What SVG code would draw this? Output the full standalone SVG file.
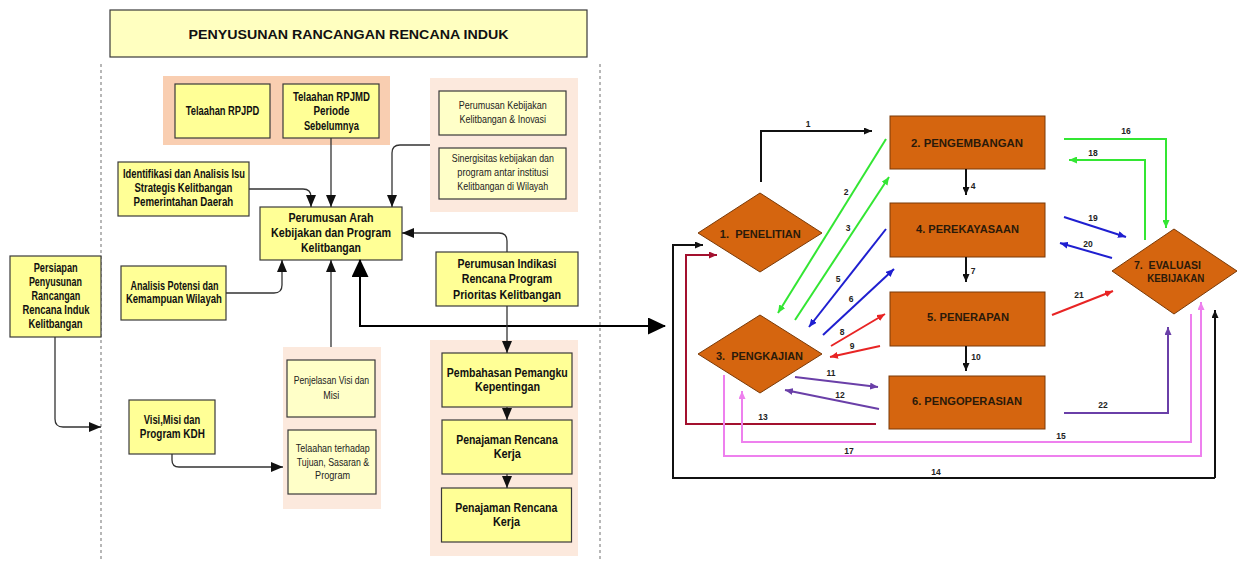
<svg xmlns="http://www.w3.org/2000/svg" width="1241" height="561" viewBox="0 0 1241 561">
<style>
.box{fill:#ffff96;stroke:#3a3a3a;stroke-width:1.2}
.lbox{fill:#ffffc8;stroke:#3a3a3a;stroke-width:1.2}
.cont1{fill:#f9ceb1}
.cont2{fill:#fce9dd}
.b{font-family:"Liberation Sans",Arial,sans-serif;font-weight:bold;font-size:12px;fill:#111;text-anchor:middle}
.n{font-family:"Liberation Sans",Arial,sans-serif;font-size:10.5px;fill:#222;text-anchor:middle}
.conn{fill:none;stroke:#333;stroke-width:1.3}
.dash{stroke:#888;stroke-width:1.2;stroke-dasharray:3,3}
.obox{fill:#d5650f;stroke:#7a3a08;stroke-width:1}
.ot{font-family:"Liberation Sans",Arial,sans-serif;font-weight:bold;font-size:10px;fill:#2a1a0a;text-anchor:middle}
.num{font-family:"Liberation Sans",Arial,sans-serif;font-weight:bold;font-size:8.5px;fill:#222;text-anchor:middle}
.k{fill:none;stroke:#111;stroke-width:2}
.g{fill:none;stroke:#33e633;stroke-width:2}
.bl{fill:none;stroke:#1f1fd0;stroke-width:2}
.r{fill:none;stroke:#e82424;stroke-width:2}
.p{fill:none;stroke:#6a3fa8;stroke-width:2}
.dr{fill:none;stroke:#a3102e;stroke-width:2}
.pk{fill:none;stroke:#ee80ee;stroke-width:2}
</style>
<defs>
<marker id="a" markerUnits="userSpaceOnUse" markerWidth="12" markerHeight="10" refX="12" refY="5" orient="auto"><path d="M0,0 L12,5 L0,10 z" fill="#111"/></marker>
<marker id="big" markerUnits="userSpaceOnUse" markerWidth="18" markerHeight="17" refX="17" refY="8.5" orient="auto-start-reverse"><path d="M0,0 L18,8.5 L0,17 z" fill="#000"/></marker>
<marker id="mk" markerUnits="userSpaceOnUse" markerWidth="8" markerHeight="7" refX="8" refY="3.5" orient="auto"><path d="M0,0 L8,3.5 L0,7 z" fill="#111"/></marker>
<marker id="mg" markerUnits="userSpaceOnUse" markerWidth="8" markerHeight="7" refX="8" refY="3.5" orient="auto"><path d="M0,0 L8,3.5 L0,7 z" fill="#33e633"/></marker>
<marker id="mb" markerUnits="userSpaceOnUse" markerWidth="8" markerHeight="7" refX="8" refY="3.5" orient="auto"><path d="M0,0 L8,3.5 L0,7 z" fill="#1f1fd0"/></marker>
<marker id="mr" markerUnits="userSpaceOnUse" markerWidth="8" markerHeight="7" refX="8" refY="3.5" orient="auto"><path d="M0,0 L8,3.5 L0,7 z" fill="#e82424"/></marker>
<marker id="mp" markerUnits="userSpaceOnUse" markerWidth="8" markerHeight="7" refX="8" refY="3.5" orient="auto"><path d="M0,0 L8,3.5 L0,7 z" fill="#6a3fa8"/></marker>
<marker id="mdr" markerUnits="userSpaceOnUse" markerWidth="8" markerHeight="7" refX="8" refY="3.5" orient="auto"><path d="M0,0 L8,3.5 L0,7 z" fill="#a3102e"/></marker>
<marker id="mpk" markerUnits="userSpaceOnUse" markerWidth="8" markerHeight="7" refX="8" refY="3.5" orient="auto"><path d="M0,0 L8,3.5 L0,7 z" fill="#ee80ee"/></marker>
</defs>
<rect width="1241" height="561" fill="#fff"/>

<g id="title">
<rect x="110" y="10" width="477" height="47" fill="#ffffc0" stroke="#3a3a3a" stroke-width="1.2"/>
<text class="b" x="348.6" y="39" font-size="15" textLength="320" lengthAdjust="spacingAndGlyphs">PENYUSUNAN RANCANGAN RENCANA INDUK</text>
</g>
<g id="separators">
<line class="dash" x1="101" y1="64" x2="101" y2="561"/>
<line class="dash" x1="600" y1="64" x2="600" y2="561"/>
</g>

<g id="cont-telaahan"><rect class="cont1" x="163" y="76" width="227" height="69"/></g>
<g id="cont-kebijakan"><rect class="cont2" x="430" y="78" width="148" height="134"/></g>
<g id="cont-visi"><rect class="cont2" x="283" y="347" width="98" height="162"/></g>
<g id="cont-pembahasan"><rect class="cont2" x="430" y="340" width="148" height="216"/></g>

<g id="n-rpjpd"><rect class="box" x="175" y="84" width="95" height="54"/>
<text class="b" x="222.5" y="114.5" textLength="73.5" lengthAdjust="spacingAndGlyphs">Telaahan RPJPD</text></g>
<g id="n-rpjmd"><rect class="box" x="283" y="84" width="96" height="54"/>
<text class="b" x="331.4" y="101" textLength="77" lengthAdjust="spacingAndGlyphs">Telaahan RPJMD</text>
<text class="b" x="331.4" y="115" textLength="36" lengthAdjust="spacingAndGlyphs">Periode</text>
<text class="b" x="331.4" y="129.5" textLength="55" lengthAdjust="spacingAndGlyphs">Sebelumnya</text></g>
<g id="n-perumusan-kebijakan"><rect class="lbox" x="439" y="91" width="127" height="44"/>
<text class="n" x="502.8" y="109" textLength="88" lengthAdjust="spacingAndGlyphs">Perumusan Kebijakan</text>
<text class="n" x="502.8" y="123" textLength="86.5" lengthAdjust="spacingAndGlyphs">Kelitbangan &amp; Inovasi</text></g>
<g id="n-sinergisitas"><rect class="lbox" x="439" y="148" width="127" height="51"/>
<text class="n" x="502.8" y="162" textLength="102" lengthAdjust="spacingAndGlyphs">Sinergisitas kebijakan dan</text>
<text class="n" x="502.8" y="176" textLength="91" lengthAdjust="spacingAndGlyphs">program antar institusi</text>
<text class="n" x="502.8" y="190" textLength="91" lengthAdjust="spacingAndGlyphs">Kelitbangan di Wilayah</text></g>
<g id="n-identifikasi"><rect class="box" x="118" y="162" width="131" height="54"/>
<text class="b" x="184" y="177.5" textLength="122" lengthAdjust="spacingAndGlyphs">Identifikasi dan Analisis Isu</text>
<text class="b" x="183.4" y="191.5" textLength="98" lengthAdjust="spacingAndGlyphs">Strategis Kelitbangan</text>
<text class="b" x="183.4" y="206" textLength="99.6" lengthAdjust="spacingAndGlyphs">Pemerintahan Daerah</text></g>
<g id="n-arah"><rect class="box" x="260" y="207" width="142" height="53"/>
<text class="b" x="331" y="222" textLength="85" lengthAdjust="spacingAndGlyphs">Perumusan Arah</text>
<text class="b" x="331" y="236.5" textLength="120" lengthAdjust="spacingAndGlyphs">Kebijakan dan Program</text>
<text class="b" x="331" y="251.5" textLength="60" lengthAdjust="spacingAndGlyphs">Kelitbangan</text></g>
<g id="n-indikasi"><rect class="box" x="436" y="252" width="142" height="54"/>
<text class="b" x="507" y="267.5" textLength="99" lengthAdjust="spacingAndGlyphs">Perumusan Indikasi</text>
<text class="b" x="507" y="282.5" textLength="90.5" lengthAdjust="spacingAndGlyphs">Rencana Program</text>
<text class="b" x="507" y="298.5" textLength="108" lengthAdjust="spacingAndGlyphs">Prioritas Kelitbangan</text></g>
<g id="n-persiapan"><rect class="box" x="10" y="256" width="91" height="81"/>
<text class="b" x="55.7" y="272" textLength="44" lengthAdjust="spacingAndGlyphs">Persiapan</text>
<text class="b" x="55.4" y="286" textLength="53" lengthAdjust="spacingAndGlyphs">Penyusunan</text>
<text class="b" x="55.9" y="299.5" textLength="48.6" lengthAdjust="spacingAndGlyphs">Rancangan</text>
<text class="b" x="55.9" y="314" textLength="67" lengthAdjust="spacingAndGlyphs">Rencana Induk</text>
<text class="b" x="55.4" y="327.5" textLength="54" lengthAdjust="spacingAndGlyphs">Kelitbangan</text></g>
<g id="n-analisis"><rect class="box" x="121" y="266" width="105" height="54"/>
<text class="b" x="174.5" y="289.5" textLength="88" lengthAdjust="spacingAndGlyphs">Analisis Potensi dan</text>
<text class="b" x="173.9" y="303" textLength="96" lengthAdjust="spacingAndGlyphs">Kemampuan Wilayah</text></g>
<g id="n-penjelasan"><rect class="lbox" x="287" y="360" width="88" height="57"/>
<text class="n" x="331.4" y="384" textLength="75.5" lengthAdjust="spacingAndGlyphs">Penjelasan Visi dan</text>
<text class="n" x="331.2" y="398.5" textLength="16" lengthAdjust="spacingAndGlyphs">Misi</text></g>
<g id="n-telaahan-tujuan"><rect class="lbox" x="288" y="430" width="88" height="64"/>
<text class="n" x="332.8" y="452" textLength="74" lengthAdjust="spacingAndGlyphs">Telaahan terhadap</text>
<text class="n" x="333" y="465.5" textLength="72.3" lengthAdjust="spacingAndGlyphs">Tujuan, Sasaran &amp;</text>
<text class="n" x="332.6" y="479" textLength="35" lengthAdjust="spacingAndGlyphs">Program</text></g>
<g id="n-visi"><rect class="box" x="129" y="400" width="86" height="54"/>
<text class="b" x="172" y="423.5" textLength="56.5" lengthAdjust="spacingAndGlyphs">Visi,Misi dan</text>
<text class="b" x="172.3" y="438" textLength="65" lengthAdjust="spacingAndGlyphs">Program KDH</text></g>
<g id="n-pembahasan"><rect class="box" x="442" y="353" width="130" height="54"/>
<text class="b" x="507.3" y="376.5" textLength="121" lengthAdjust="spacingAndGlyphs">Pembahasan Pemangku</text>
<text class="b" x="507.5" y="391" textLength="65" lengthAdjust="spacingAndGlyphs">Kepentingan</text></g>
<g id="n-penajaman1"><rect class="box" x="442" y="420" width="130" height="54"/>
<text class="b" x="507" y="444" textLength="101.6" lengthAdjust="spacingAndGlyphs">Penajaman Rencana</text>
<text class="b" x="507.3" y="458" textLength="27.3" lengthAdjust="spacingAndGlyphs">Kerja</text></g>
<g id="n-penajaman2"><rect class="box" x="441.5" y="488" width="130" height="54"/>
<text class="b" x="506.3" y="512" textLength="102" lengthAdjust="spacingAndGlyphs">Penajaman Rencana</text>
<text class="b" x="506.5" y="526" textLength="27" lengthAdjust="spacingAndGlyphs">Kerja</text></g>

<g id="n-pengembangan"><rect class="obox" x="890" y="116" width="155" height="53"/>
<text class="ot" x="967" y="147" textLength="112" lengthAdjust="spacingAndGlyphs">2. PENGEMBANGAN</text></g>
<g id="n-perekayasaan"><rect class="obox" x="890" y="203" width="155" height="54"/>
<text class="ot" x="967.5" y="233" textLength="103" lengthAdjust="spacingAndGlyphs">4. PEREKAYASAAN</text></g>
<g id="n-penerapan"><rect class="obox" x="890" y="292" width="155" height="54"/>
<text class="ot" x="968" y="321" textLength="82" lengthAdjust="spacingAndGlyphs">5. PENERAPAN</text></g>
<g id="n-pengoperasian"><rect class="obox" x="889" y="376" width="156" height="53"/>
<text class="ot" x="967" y="405" textLength="110" lengthAdjust="spacingAndGlyphs">6. PENGOPERASIAN</text></g>
<g id="n-penelitian"><polygon class="obox" points="760,193 822,233 760,272 698,233"/>
<text class="ot" x="760.3" y="238" textLength="81" lengthAdjust="spacingAndGlyphs" xml:space="preserve">1.  PENELITIAN</text></g>
<g id="n-pengkajian"><polygon class="obox" points="760,315 822,354 760,393 698,354"/>
<text class="ot" x="759.5" y="360" textLength="87" lengthAdjust="spacingAndGlyphs" xml:space="preserve">3.  PENGKAJIAN</text></g>
<g id="n-evaluasi"><polygon class="obox" points="1174,229 1237,271 1174,314 1112,271"/>
<text class="ot" x="1167.5" y="269" textLength="67" lengthAdjust="spacingAndGlyphs" xml:space="preserve">7.  EVALUASI</text>
<text class="ot" x="1175.8" y="281.5" textLength="57" lengthAdjust="spacingAndGlyphs">KEBIJAKAN</text></g>

<g id="connectors">
<path class="conn" d="M331,138 V207" marker-end="url(#a)"/>
<path class="conn" d="M249,189 H303 Q311,189 311,197 V207" marker-end="url(#a)"/>
<path class="conn" d="M430,145 H400 Q392,145 392,153 V207" marker-end="url(#a)"/>
<path class="conn" d="M507,252 V241 Q507,233 499,233 H402" marker-end="url(#a)"/>
<path class="conn" d="M226,293 H274 Q282,293 282,285 V260" marker-end="url(#a)"/>
<path class="conn" d="M331,347 V260" marker-end="url(#a)"/>
<path fill="none" stroke="#000" stroke-width="2" d="M360,260 V326 H665" marker-start="url(#big)" marker-end="url(#big)"/>
<path class="conn" d="M507,306 V353" marker-end="url(#a)"/>
<path class="conn" d="M507,407 V420" marker-end="url(#a)"/>
<path class="conn" d="M507,474 V488" marker-end="url(#a)"/>
<path class="conn" d="M55,337 V419 Q55,427 63,427 H101" marker-end="url(#a)"/>
<path class="conn" d="M172,454 V460 Q172,467 179,467 H283" marker-end="url(#a)"/>

<path class="k" d="M761,182 V131 H872" marker-end="url(#mk)"/>
<text class="num" x="808" y="127">1</text>
<path class="g" d="M886,139 L778,313" marker-end="url(#mg)"/>
<text class="num" x="846" y="195">2</text>
<path class="g" d="M795,320 L889,177" marker-end="url(#mg)"/>
<text class="num" x="848" y="231">3</text>
<path class="k" d="M966,169 V195" marker-end="url(#mk)"/>
<text class="num" x="973" y="189">4</text>
<path class="bl" d="M886,229 L809,327" marker-end="url(#mb)"/>
<text class="num" x="838" y="282">5</text>
<path class="bl" d="M823,335 L894,269" marker-end="url(#mb)"/>
<text class="num" x="851" y="302">6</text>
<path class="k" d="M966,257 V282" marker-end="url(#mk)"/>
<text class="num" x="973" y="274">7</text>
<path class="r" d="M831,346 L885,314" marker-end="url(#mr)"/>
<text class="num" x="842" y="335">8</text>
<path class="r" d="M880,346 L830,357" marker-end="url(#mr)"/>
<text class="num" x="852" y="349">9</text>
<path class="k" d="M966,346 V371" marker-end="url(#mk)"/>
<text class="num" x="976" y="360">10</text>
<path class="p" d="M795,377 L878,387" marker-end="url(#mp)"/>
<text class="num" x="831" y="376">11</text>
<path class="p" d="M879,409 L785,390" marker-end="url(#mp)"/>
<text class="num" x="840" y="398">12</text>
<path class="dr" d="M876,424 H686 V255 H717" marker-end="url(#mdr)"/>
<text class="num" x="763" y="420">13</text>
<path class="k" d="M1215,478 H673 V245 H703" fill="none"/>
<path class="k" d="M1215,478 V310" marker-end="url(#mk)"/>
<path class="k" d="M673,245 H703" marker-end="url(#mk)"/>
<text class="num" x="936" y="475">14</text>
<path class="pk" d="M1191,314 V442 H742 V391" marker-end="url(#mpk)"/>
<text class="num" x="1061" y="439">15</text>
<path class="g" d="M1064,139 H1166 V228" marker-end="url(#mg)"/>
<text class="num" x="1126" y="134">16</text>
<path class="pk" d="M724,375 V456 H1201 V302" marker-end="url(#mpk)"/>
<text class="num" x="849" y="454">17</text>
<path class="g" d="M1145,240 V160 H1069" marker-end="url(#mg)"/>
<text class="num" x="1093" y="156">18</text>
<path class="bl" d="M1064,217 L1126,237" marker-end="url(#mb)"/>
<text class="num" x="1093" y="221">19</text>
<path class="bl" d="M1112,258 L1060,243" marker-end="url(#mb)"/>
<text class="num" x="1088" y="247">20</text>
<path class="r" d="M1052,315 L1113,291" marker-end="url(#mr)"/>
<text class="num" x="1079" y="298">21</text>
<path class="p" d="M1064,413 H1168 V327" marker-end="url(#mp)"/>
<text class="num" x="1103" y="408">22</text>
</g>
</svg>
